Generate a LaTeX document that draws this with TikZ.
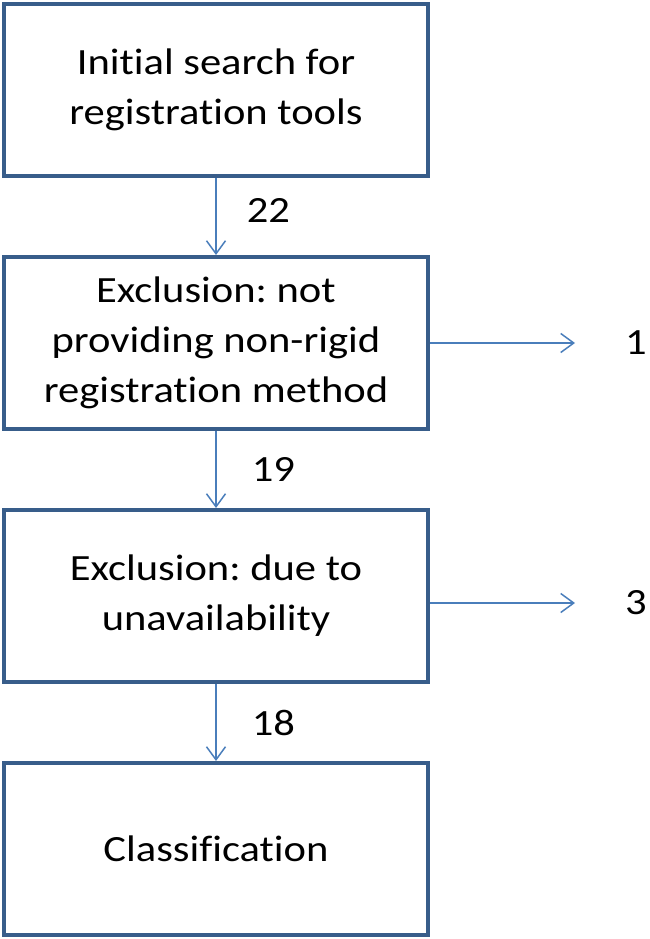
\documentclass[tikz,border=0pt]{standalone}
\usepackage{fontspec}
\setmainfont{Carlito}[FakeStretch=1.15, Ligatures=NoCommon]
\usetikzlibrary{arrows.meta, positioning}

\definecolor{boxblue}{RGB}{56,93,138}
\definecolor{lineblue}{RGB}{74,126,187}

\begin{document}
\frenchspacing
\begin{tikzpicture}[
		node distance=77pt and 145pt,
		every node/.style={font=\fontsize{37}{50}\selectfont},
		stage/.style={draw=boxblue, line width=4pt, fill=white, minimum width=424pt, minimum height=172pt, align=center},
		num/.style={inner sep=0pt},
		flow/.style={draw=lineblue, line width=1.5pt, -{Straight Barb[length=13pt, width=19pt, line width=1.5pt]}}
		]
	
		\useasboundingbox (0,0) rectangle (649pt,-939pt);
	
		% main chain
		\node[stage] at (216pt,-90pt) (search) {Initial search for\\registration tools};
		\node[stage, below = of search] (rigid) {Exclusion: not\\providing non-rigid\\registration method};
		\node[stage, below = of rigid] (avail) {Exclusion: due to\\unavailability};
		\node[stage, below = of avail] (classif) {Classification};
		
		\draw[flow] (search) -- node[num, right = 30pt, yshift = 6pt] (n22) {22} (rigid);
		\draw[flow] (rigid) -- node[num, right = 35pt] (n19) {19} (avail);
		\draw[flow] (avail) -- node[num, right = 35pt] (n18) {18} (classif);
		
		% excluded
		\coordinate[right = of rigid.east] (outrigid);
		\node[num, right = 50pt of outrigid] (n1) {1};
		\draw[flow] (rigid) -- (outrigid);
		
		\coordinate[right = of avail.east, yshift = -7pt] (outavail);
		\node[num, right = 50pt of outavail] (n3) {3};
		\draw[flow] (avail.east |- outavail) -- (outavail);
		
	\end{tikzpicture}
\end{document}
